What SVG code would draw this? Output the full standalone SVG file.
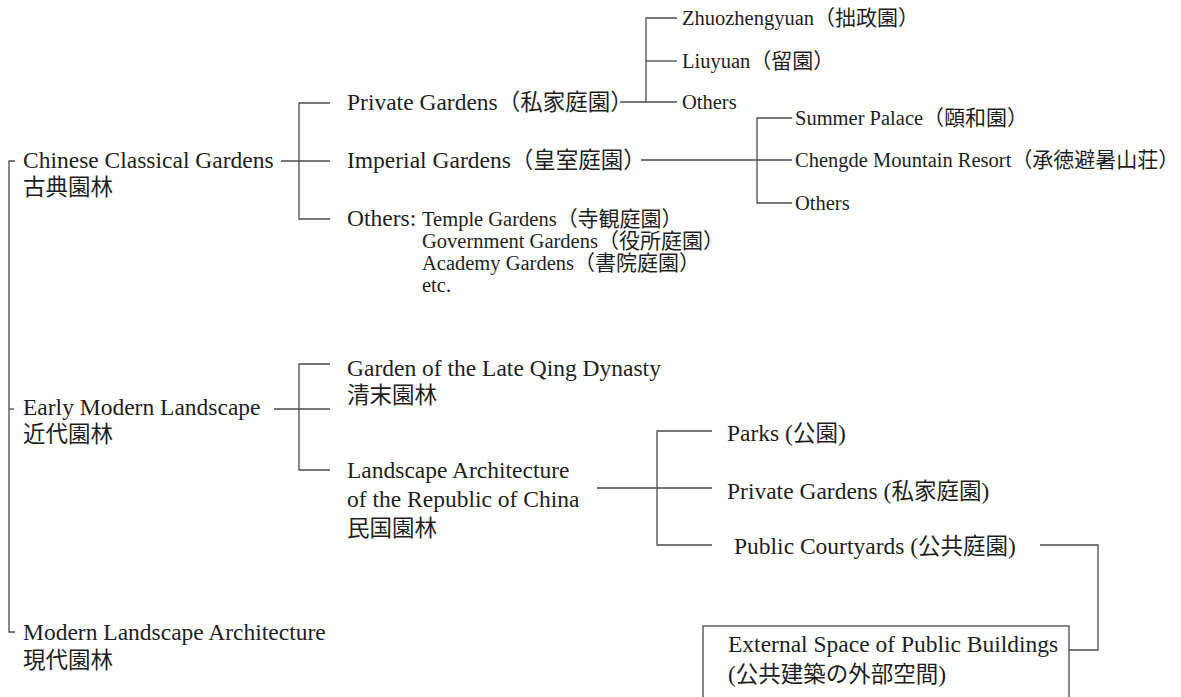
<svg xmlns="http://www.w3.org/2000/svg" width="1181" height="697" viewBox="0 0 1181 697">
<style>
  text { font-family: "Liberation Serif", "Noto Sans CJK JP", serif; fill: #1e1e1e; }
  .l1 { font-size: 23.5px; }
  .l3 { font-size: 20.5px; }
  .cjk { font-family: "Noto Sans CJK JP", "Noto Sans CJK SC", sans-serif; font-size: 22.5px; }
  .ln { fill: none; stroke: #4a4a4a; stroke-width: 1.3; }
</style>
<rect width="1181" height="697" fill="#ffffff"/>
<g id="connectors">
  <path class="ln" d="M15,161 H9 V632 H15"/>
  <path class="ln" d="M9,409 H14"/>
  <path class="ln" d="M281,161 H330"/>
  <path class="ln" d="M330,103 H299 V219 H330"/>
  <path class="ln" d="M620,102 H677"/>
  <path class="ln" d="M677,18 H646 V102"/>
  <path class="ln" d="M646,61 H677"/>
  <path class="ln" d="M641,160 H792"/>
  <path class="ln" d="M792,118 H757 V203 H792"/>
  <path class="ln" d="M274,409 H330"/>
  <path class="ln" d="M330,364 H299 V470 H330"/>
  <path class="ln" d="M597,488 H712"/>
  <path class="ln" d="M712,431 H657 V545 H712"/>
  <path class="ln" d="M1040,545 H1098 V650 H1069"/>
</g>
<g id="n-classical">
  <text class="l1" x="23" y="168">Chinese Classical Gardens</text>
  <text class="cjk" x="23" y="195">古典園林</text>
</g>
<g id="n-early">
  <text class="l1" x="23" y="415">Early Modern Landscape</text>
  <text class="cjk" x="23" y="442">近代園林</text>
</g>
<g id="n-modern">
  <text class="l1" x="23" y="640">Modern Landscape Architecture</text>
  <text class="cjk" x="23" y="668">現代園林</text>
</g>
<g id="n-private">
  <text class="l1" x="347" y="110">Private Gardens<tspan class="cjk">（私家庭園）</tspan></text>
</g>
<g id="n-imperial">
  <text class="l1" x="347" y="168">Imperial Gardens<tspan class="cjk">（皇室庭園）</tspan></text>
</g>
<g id="n-others">
  <text class="l1" x="347" y="226">Others:</text>
  <text class="l3" x="422" y="226">Temple Gardens<tspan class="cjk" style="font-size:21px">（寺観庭園）</tspan></text>
  <text class="l3" x="422" y="248">Government Gardens<tspan class="cjk" style="font-size:21px">（役所庭園）</tspan></text>
  <text class="l3" x="422" y="270">Academy Gardens<tspan class="cjk" style="font-size:21px">（書院庭園）</tspan></text>
  <text class="l3" x="422" y="292">etc.</text>
</g>
<g id="n-zhuo">
  <text class="l3" x="682" y="25">Zhuozhengyuan<tspan class="cjk" style="font-size:21px">（拙政園）</tspan></text>
</g>
<g id="n-liuyuan">
  <text class="l3" x="682" y="68">Liuyuan<tspan class="cjk" style="font-size:21px">（留園）</tspan></text>
</g>
<g id="n-others-private">
  <text class="l3" x="682" y="109">Others</text>
</g>
<g id="n-summer">
  <text class="l3" x="795" y="125">Summer Palace<tspan class="cjk" style="font-size:21px">（頤和園）</tspan></text>
</g>
<g id="n-chengde">
  <text class="l3" x="795" y="167">Chengde Mountain Resort<tspan class="cjk" style="font-size:21px">（承徳避暑山荘）</tspan></text>
</g>
<g id="n-others-imperial">
  <text class="l3" x="795" y="210">Others</text>
</g>
<g id="n-qing">
  <text class="l1" x="347" y="376">Garden of the Late Qing Dynasty</text>
  <text class="cjk" x="347" y="403">清末園林</text>
</g>
<g id="n-republic">
  <text class="l1" x="347" y="478">Landscape Architecture</text>
  <text class="l1" x="347" y="507">of the Republic of China</text>
  <text class="cjk" x="347" y="536">民国園林</text>
</g>
<g id="n-parks">
  <text class="l1" x="727" y="441">Parks (<tspan class="cjk">公園</tspan>)</text>
</g>
<g id="n-private2">
  <text class="l1" x="727" y="499">Private Gardens (<tspan class="cjk">私家庭園</tspan>)</text>
</g>
<g id="n-public">
  <text class="l1" x="734" y="554">Public Courtyards (<tspan class="cjk">公共庭園</tspan>)</text>
</g>
<g id="n-external">
  <rect x="703" y="626" width="366" height="90" fill="none" stroke="#4a4a4a" stroke-width="1.3"/>
  <text class="l1" x="728" y="652">External Space of Public Buildings</text>
  <text class="l1" x="728" y="682">(<tspan class="cjk">公共建築の外部空間</tspan>)</text>
</g>
</svg>
